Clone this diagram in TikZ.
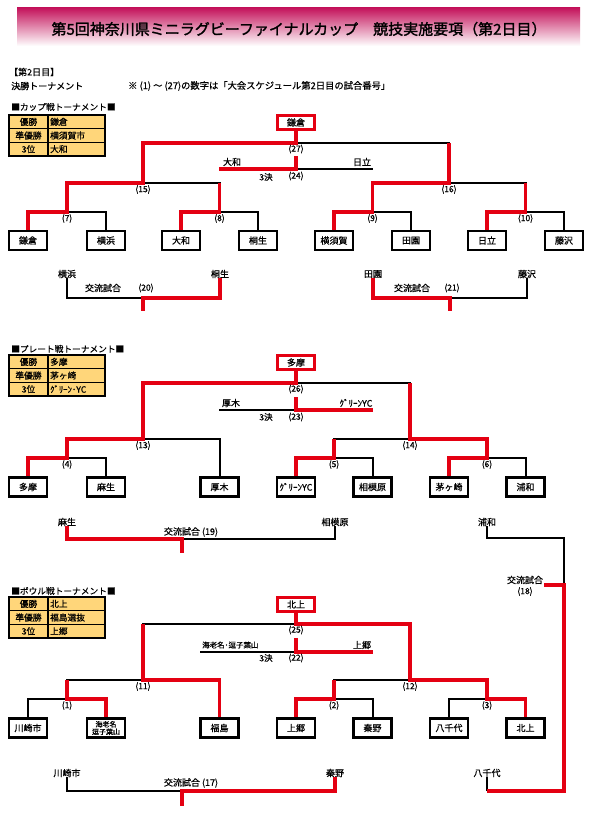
\documentclass[tikz,border=0pt]{standalone}
\usepackage{fontspec}
\setmainfont{Noto Sans CJK JP}[FakeBold=0.6]
\newfontfamily\titlefont{Noto Sans CJK JP}[FakeBold=1.6]
\definecolor{rred}{RGB}{228,0,18}
\definecolor{tblfill}{RGB}{255,214,122}
\definecolor{bannertop}{RGB}{196,20,92}
\definecolor{bannermid}{RGB}{232,150,185}
\tikzset{
  bk/.style={draw=black, line width=2pt},
  rd/.style={draw=rred, line width=3.6pt},
  team/.style={draw=black, line width=2.2pt, minimum width=38pt, minimum height=19pt, inner sep=0pt, font=\fontsize{9}{9.5}\selectfont},
  champ/.style={draw=rred, line width=3.4pt, minimum width=37pt, minimum height=14pt, inner sep=0pt, font=\fontsize{9}{9.5}\selectfont},
  num/.style={inner sep=0pt, font=\fontsize{8.5}{9}\selectfont},
  lbl/.style={inner sep=0pt, font=\fontsize{9}{9.5}\selectfont},
  tbl/.style={inner sep=0pt, font=\fontsize{8.7}{9}\selectfont},
}
\newcommand\restbl[5]{%
  \fill[tblfill] (9,#1) rectangle (105,{#1+41});
  \draw[line width=1.1pt] (9,#1) rectangle (105,{#1+41})
     (9,{#1+13.7}) -- (105,{#1+13.7})
     (9,{#1+27.3}) -- (105,{#1+27.3})
     (48,#1) -- (48,{#1+41});
  \node[tbl] (#5a) at (28.5,{#1+6.85}) {優勝};
  \node[tbl] (#5b) at (28.5,{#1+20.5}) {準優勝};
  \node[tbl] (#5c) at (28.5,{#1+34.15}) {3位};
  \node[tbl, anchor=west] (#5d) at (50,{#1+6.85}) {#2};
  \node[tbl, anchor=west] (#5e) at (50,{#1+20.5}) {#3};
  \node[tbl, anchor=west] (#5f) at (50,{#1+34.15}) {#4};
}
\begin{document}
\begin{tikzpicture}[x=1pt,y=-1pt]
\useasboundingbox (0,0) rectangle (597,813);
\fill[white] (0,0) rectangle (597,813);

% ---------- title ----------
\shade[top color=bannertop, middle color=bannermid, bottom color=white] (17,8) rectangle (580,46);
\node[font=\fontsize{15}{16}\selectfont\titlefont] (title) at (299,29) {第5回神奈川県ミニラグビーファイナルカップ　競技実施要項（第2日目）};

\node[lbl, anchor=west] (day) at (9,72) {【第2日目】};
\node[lbl, anchor=west] (fin) at (11,86) {決勝トーナメント};
\node[lbl, anchor=west, font=\fontsize{9.3}{9.5}\selectfont] (note) at (128,86) {※ (1) ～ (27)の数字は「大会スケジュール第2日目の試合番号」};

% =================== CUP ===================
\node[tbl, anchor=west] (cuphead) at (11,107) {■カップ戦トーナメント■};
\restbl{115}{鎌倉}{横須賀市}{大和}{ct}

\node[champ] (cW) at (296,122.5) {鎌倉};
\node[team] (c1) at (28,240.5) {鎌倉};
\node[team] (c2) at (106,240.5) {横浜};
\node[team] (c3) at (181,240.5) {大和};
\node[team] (c4) at (258,240.5) {桐生};
\node[team] (c5) at (334,240.5) {横須賀};
\node[team] (c6) at (411,240.5) {田園};
\node[team] (c7) at (487,240.5) {日立};
\node[team] (c8) at (564,240.5) {藤沢};

\coordinate (m7) at (67,212);
\coordinate (m8) at (219.5,212);
\coordinate (m9) at (372.5,212);
\coordinate (m10) at (525.5,212);
\coordinate (m15) at (143,183);
\coordinate (m16) at (449,183);
\coordinate (m27) at (296,143);
\coordinate (t24) at (296,169);
\coordinate (t24a) at (219,169);
\coordinate (t24b) at (373,169);
\coordinate (t24top) at (296,156);

\draw[bk] (c1.north) |- (m7) -| (c2.north);
\draw[bk] (c3.north) |- (m8) -| (c4.north);
\draw[bk] (c5.north) |- (m9) -| (c6.north);
\draw[bk] (c7.north) |- (m10) -| (c8.north);
\draw[bk] (m7) |- (m15) -| (m8);
\draw[bk] (m9) |- (m16) -| (m10);
\draw[bk] (m15) |- (m27) -| (m16);
\draw[bk] (t24a) -- (t24b);

\draw[rd] (c1.north) |- (m7) |- (m15) |- (m27) -- (cW.south);
\draw[rd] (c3.north) |- (m8) -- (m8 |- m15);
\draw[rd] (c5.north) |- (m9) |- (m16) -- (m16 |- m27);
\draw[rd] (c7.north) |- (m10) -- (m10 |- m16);
\draw[rd] (t24a) -- (t24) -- (t24top);

\node[num] (n27) at (296,149) {(27)};
\node[num] (n15) at (143,189.5) {(15)};
\node[num] (n16) at (449,189.5) {(16)};
\node[num] (n7) at (67,218.5) {(7)};
\node[num] (n8) at (219.5,218.5) {(8)};
\node[num] (n9) at (372.5,218.5) {(9)};
\node[num] (n10) at (525.5,218.5) {(10)};
\node[lbl] (l24a) at (232,162) {大和};
\node[lbl] (l24b) at (362,162) {日立};
\node[num] (k24) at (266,177) {3決};
\node[num] (n24) at (296,176) {(24)};

% cup exchange (20)
\node[lbl] (x20a) at (67,274) {横浜};
\node[lbl] (x20b) at (220,274) {桐生};
\coordinate (x20) at (143,298);
\coordinate (x20s) at (143,311);
\draw[bk] (x20a.south) |- (x20);
\draw[rd] (x20b.south) |- (x20) -- (x20s);
\node[lbl] (x20t) at (103,288) {交流試合};
\node[num] (x20n) at (146,288) {(20)};

% cup exchange (21)
\node[lbl] (x21a) at (373,274) {田園};
\node[lbl] (x21b) at (527,274) {藤沢};
\coordinate (x21) at (450,298);
\coordinate (x21s) at (450,311);
\draw[bk] (x21b.south) |- (x21);
\draw[rd] (x21a.south) |- (x21) -- (x21s);
\node[lbl] (x21t) at (412,288) {交流試合};
\node[num] (x21n) at (452,288) {(21)};

% =================== PLATE ===================
\node[tbl, anchor=west] (platehead) at (11,349) {■プレート戦トーナメント■};
\restbl{355}{多摩}{茅ヶ崎}{ｸﾞﾘｰﾝ･YC}{pt}

\node[champ] (pW) at (296,362.5) {多摩};
\node[team] (p1) at (28,487) {多摩};
\node[team] (p2) at (106,487) {麻生};
\node[team] (p3) at (219.5,487) {厚木};
\node[team] (p4) at (296,487) {ｸﾞﾘｰﾝYC};
\node[team] (p5) at (372.5,487) {相模原};
\node[team] (p6) at (449,487) {茅ヶ崎};
\node[team] (p7) at (525.5,487) {浦和};

\coordinate (q4) at (67,458);
\coordinate (q5) at (334,458);
\coordinate (q6) at (487,458);
\coordinate (q13) at (143,439);
\coordinate (q14) at (410,439);
\coordinate (q26) at (296,383);
\coordinate (q23) at (296,410);
\coordinate (q23a) at (219,410);
\coordinate (q23b) at (373,410);
\coordinate (q23top) at (296,397);

\draw[bk] (p1.north) |- (q4) -| (p2.north);
\draw[bk] (q4) |- (q13) -| (p3.north);
\draw[bk] (p4.north) |- (q5) -| (p5.north);
\draw[bk] (p6.north) |- (q6) -| (p7.north);
\draw[bk] (q5) |- (q14) -| (q6);
\draw[bk] (q13) |- (q26) -| (q14);
\draw[bk] (q23a) -- (q23b);

\draw[rd] (p1.north) |- (q4) |- (q13) |- (q26) -- (pW.south);
\draw[rd] (p4.north) |- (q5) -- (q5 |- q14);
\draw[rd] (p6.north) |- (q6) |- (q14) -- (q14 |- q26);
\draw[rd] (q23top) -- (q23) -- (q23b);

\node[num] (n26) at (296,389) {(26)};
\node[num] (n13) at (143,445.5) {(13)};
\node[num] (n14) at (410,445.5) {(14)};
\node[num] (n4) at (67,464.5) {(4)};
\node[num] (n5) at (334,464.5) {(5)};
\node[num] (n6) at (487,464.5) {(6)};
\node[lbl] (l23a) at (231,403) {厚木};
\node[lbl] (l23b) at (356,403) {ｸﾞﾘｰﾝYC};
\node[num] (k23) at (266,417) {3決};
\node[num] (n23) at (296,417) {(23)};

% plate exchange (19)
\node[lbl] (x19a) at (67,522) {麻生};
\node[lbl] (x19b) at (335,522) {相模原};
\coordinate (x19) at (182,539);
\coordinate (x19s) at (182,553);
\draw[bk] (x19b.south) |- (x19);
\draw[rd] (x19a.south) |- (x19) -- (x19s);
\node[lbl] (x19t) at (191,532) {交流試合 (19)};

% exchange (18)
\node[lbl] (x18a) at (487,522) {浦和};
\node[lbl] (x18b) at (487,773) {八千代};
\coordinate (x18c) at (564,538);
\coordinate (x18) at (564,585);
\coordinate (x18s) at (544,585);
\coordinate (x18d) at (564,791);
\draw[bk] (x18a.south) |- (x18c) -- (x18);
\draw[bk] (x18b.south) -- (x18b.south |- x18d);
\draw[rd] (x18s) -- (x18) -- (x18d) -- (x18b.south |- x18d);
\node[lbl] (x18t) at (525,580) {交流試合};
\node[num] (x18n) at (525,591.5) {(18)};

% =================== BOWL ===================
\node[tbl, anchor=west] (bowlhead) at (11,591) {■ボウル戦トーナメント■};
\restbl{597}{北上}{福島選抜}{上郷}{bt}

\node[champ] (bW) at (296,604.5) {北上};
\node[team] (b1) at (28,728) {川崎市};
\node[team, align=center, font=\fontsize{7}{7.5}\selectfont] (b2) at (106,728) {海老名\\逗子葉山};
\node[team] (b3) at (219.5,728) {福島};
\node[team] (b4) at (296,728) {上郷};
\node[team] (b5) at (372.5,728) {秦野};
\node[team] (b6) at (449,728) {八千代};
\node[team] (b7) at (525.5,728) {北上};

\coordinate (r1) at (67,699);
\coordinate (r2) at (334,699);
\coordinate (r3) at (487,699);
\coordinate (r11) at (143,680);
\coordinate (r12) at (410,680);
\coordinate (r25) at (296,624);
\coordinate (r22) at (296,652);
\coordinate (r22a) at (200,652);
\coordinate (r22b) at (373,652);
\coordinate (r22top) at (296,638);

\draw[bk] (b1.north) |- (r1) -| (b2.north);
\draw[bk] (r1) |- (r11) -| (b3.north);
\draw[bk] (b4.north) |- (r2) -| (b5.north);
\draw[bk] (b6.north) |- (r3) -| (b7.north);
\draw[bk] (r2) |- (r12) -| (r3);
\draw[bk] (r11) |- (r25) -| (r12);
\draw[bk] (r22a) -- (r22b);

\draw[rd] (b7.north) |- (r3) |- (r12) |- (r25) -- (bW.south);
\draw[rd] (b2.north) |- (r1) -- (r1 |- r11);
\draw[rd] (b3.north) |- (r11) -- (r11 |- r25);
\draw[rd] (b4.north) |- (r2) -- (r2 |- r12);
\draw[rd] (r22top) -- (r22) -- (r22b);

\node[num] (n25) at (296,630) {(25)};
\node[num] (n11) at (143,686.5) {(11)};
\node[num] (n12) at (410,686.5) {(12)};
\node[num] (n1) at (67,705.5) {(1)};
\node[num] (n2) at (334,705.5) {(2)};
\node[num] (n3) at (487,705.5) {(3)};
\node[inner sep=0pt, anchor=west, font=\fontsize{7.5}{8}\selectfont] (l22a) at (202,645) {海老名･逗子葉山};
\node[lbl] (l22b) at (362,645) {上郷};
\node[num] (k22) at (266,658) {3決};
\node[num] (n22) at (296,658) {(22)};

% bowl exchange (17)
\node[lbl] (x17a) at (67,773) {川崎市};
\node[lbl] (x17b) at (335,773) {秦野};
\coordinate (x17) at (182,791);
\coordinate (x17s) at (182,806);
\draw[bk] (x17a.south) |- (x17);
\draw[rd] (x17b.south) |- (x17) -- (x17s);
\node[lbl] (x17t) at (191,783) {交流試合 (17)};
\end{tikzpicture}
\end{document}
